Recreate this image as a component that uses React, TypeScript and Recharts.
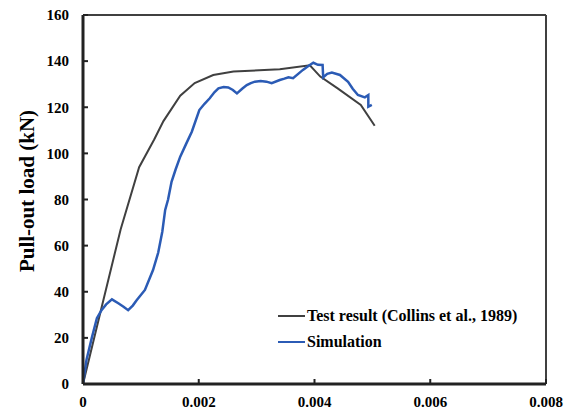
import React from 'react';
import {
  LineChart,
  Line,
  XAxis,
  YAxis,
  ReferenceLine,
  Legend,
} from 'recharts';

// slip (x) vs pull-out load in kN (y)
const testSlip = [0, 0.0003, 0.00065, 0.00097, 0.00123, 0.00139, 0.00168, 0.00193, 0.00225, 0.0026, 0.0034, 0.00392, 0.0041, 0.0044, 0.0048, 0.00504];
const testLoad = [0, 31, 67, 94, 106, 114, 125, 130.5, 134, 135.5, 136.5, 138.2, 133.3, 128.2, 121, 112];

const simSlip = [
  0, 0.00006, 0.00015, 0.00024, 0.00032, 0.0004, 0.0005, 0.00061, 0.0007, 0.00078, 0.00086, 0.00093,
  0.00107, 0.00121, 0.0013, 0.00137, 0.00142, 0.00147, 0.00153, 0.0016, 0.00168, 0.00178, 0.00188,
  0.00201, 0.0021, 0.00219, 0.00227, 0.00234, 0.00243, 0.00251, 0.00259, 0.00266, 0.00275, 0.00283,
  0.0029, 0.00297, 0.00307, 0.00317, 0.00326, 0.0034, 0.00348, 0.00355, 0.00363, 0.0038, 0.0039,
  0.00398, 0.00406, 0.00414, 0.00415, 0.00422, 0.0043, 0.00444, 0.00458, 0.00466, 0.00475, 0.00487,
  0.00493, 0.00493, 0.00499,
];
const simLoad = [
  0, 10.4, 19.8, 28.5, 32, 34.5, 36.7, 35, 33.5, 32, 34, 36.4,
  40.8, 49.4, 57, 66, 75.5, 80, 87.7, 93, 98.6, 104, 109.4,
  118.8, 121.5, 123.9, 126.5, 128.2, 128.8, 128.6, 127.5, 126, 128, 129.6,
  130.5, 131.1, 131.4, 131.1, 130.4, 131.8, 132.4, 133, 132.6, 136.2, 138,
  139.3, 138.4, 138.3, 133, 134.5, 135, 134, 131, 128, 125.3, 124.3,
  125.3, 120.2, 121,
];

const xTicks = [0, 0.002, 0.004, 0.006, 0.008];
const yTicks = [0, 20, 40, 60, 80, 100, 120, 140, 160];

const testData = testSlip.map((x, i) => ({ x, load: testLoad[i] }));
const simData = simSlip.map((x, i) => ({ x, load: simLoad[i] }));

const FONT = '"Liberation Serif", "Times New Roman", serif';
const tickStyle = { fontFamily: FONT, fontSize: 15, fontWeight: 700, fill: '#000' };

const LegendRows = () => (
  <div style={{ fontFamily: FONT, fontSize: 16, fontWeight: 700, color: '#000' }}>
    {[
      { name: 'Test result (Collins et al., 1989)', color: '#404040' },
      { name: 'Simulation', color: '#2b5bb5' },
    ].map((r) => (
      <div key={r.name} style={{ display: 'flex', alignItems: 'center', height: 26 }}>
        <span style={{ width: 27, height: 2, background: r.color, marginRight: 2 }} />
        <span>{r.name}</span>
      </div>
    ))}
  </div>
);

const YTitle = () => (
  <text
    x={27}
    y={191}
    transform="rotate(-90, 27, 191)"
    textAnchor="middle"
    dominantBaseline="central"
    style={{ fontFamily: FONT, fontSize: 21, fontWeight: 700, fill: '#000' }}
  >
    Pull-out load (kN)
  </text>
);

export default function App() {
  return (
    <div style={{ position: 'absolute', left: 0, top: 0, background: '#fff' }}>
      <LineChart width={579} height={416} margin={{ top: 15, right: 33, bottom: 0, left: 0 }}>
        <XAxis
          dataKey="x"
          type="number"
          domain={[0, 0.008]}
          ticks={xTicks}
          allowDuplicatedCategory={false}
          height={32}
          tickSize={-5}
          tickMargin={17}
          tick={tickStyle}
          tickFormatter={(v: number) => (v === 0 ? '0' : v.toFixed(3))}
          axisLine={{ stroke: '#222', strokeWidth: 3 }}
          tickLine={{ stroke: '#222', strokeWidth: 2 }}
        />
        <YAxis
          type="number"
          domain={[0, 160]}
          ticks={yTicks}
          width={83}
          tickSize={-5}
          tickMargin={19}
          tick={tickStyle}
          axisLine={{ stroke: '#222', strokeWidth: 3 }}
          tickLine={{ stroke: '#222', strokeWidth: 2 }}
          label={<YTitle />}
        />
        <ReferenceLine y={160} stroke="#404040" strokeWidth={2} />
        <ReferenceLine x={0.008} stroke="#404040" strokeWidth={2} />
        {/* vertical + center + middle keeps the legend from reserving chart space */}
        <Legend
          layout="vertical"
          align="center"
          verticalAlign="middle"
          content={<LegendRows />}
          wrapperStyle={{ position: 'absolute', left: 278, top: 303, width: 260 }}
        />
        <Line
          data={testData}
          dataKey="load"
          stroke="#404040"
          strokeWidth={2}
          dot={false}
          type="linear"
          isAnimationActive={false}
        />
        <Line
          data={simData}
          dataKey="load"
          stroke="#2b5bb5"
          strokeWidth={2.5}
          dot={false}
          type="linear"
          isAnimationActive={false}
        />
      </LineChart>
    </div>
  );
}
